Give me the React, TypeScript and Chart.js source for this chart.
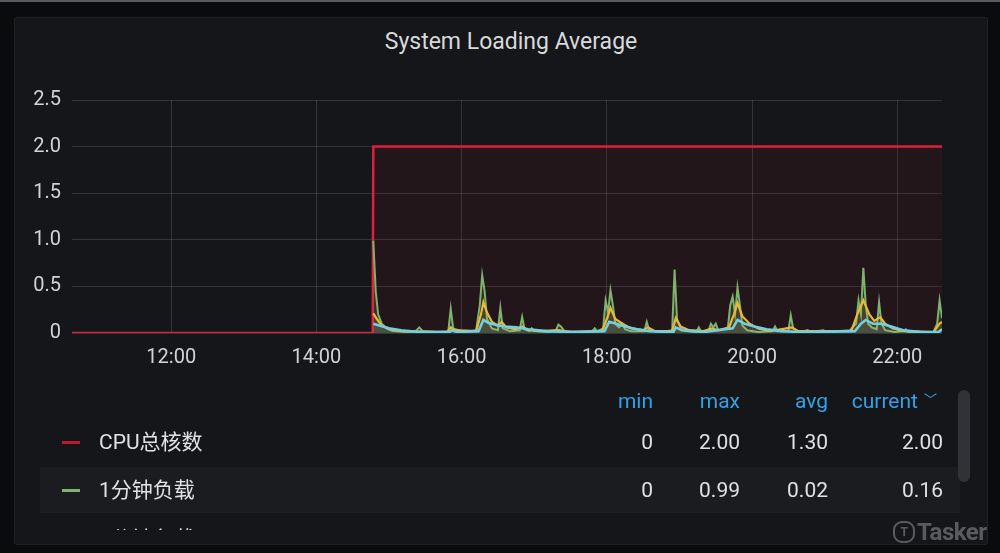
import React, { useEffect, useRef } from "react";
import { Chart, registerables } from "chart.js";

Chart.register(...registerables);

// time in minutes since midnight
const X_MIN = 638;
const X_MAX = 1357;

const xTicks = [720, 840, 960, 1080, 1200, 1320];
const yTicks = [0, 0.5, 1.0, 1.5, 2.0, 2.5];

const seriesNames = ["CPU总核数", "1分钟负载", "5分钟负载", "15分钟负载"];
const seriesColors = ["#e0203a", "#7eb26d", "#eab839", "#6ed0e0"];

const cpuCores: [number, number][] = [
  [638, 0], [886.5, 0], [887, 2], [1357, 2],
];

const load1: [number, number][] = [
  [887, 0.99], [889, 0.45], [891, 0.2], [894, 0.1], [898, 0.05], [903, 0.02], [915, 0.01], [922, 0.02], [925, 0.06], [928, 0.02],
  [940, 0.01], [949, 0.02], [951, 0.26], [953, 0.05], [962, 0.01], [972, 0.03], [975, 0.3], [977, 0.62], [979, 0.45], [981, 0.15],
  [985, 0.05], [990, 0.03], [992, 0.27], [994, 0.05], [1000, 0.02], [1008, 0.03], [1010, 0.17], [1012, 0.04], [1016, 0.02], [1018, 0.05],
  [1020, 0.02], [1032, 0.01], [1038, 0.03], [1040, 0.09], [1042, 0.07], [1045, 0.02], [1060, 0.01], [1068, 0.02], [1070, 0.05], [1072, 0.02],
  [1077, 0.05], [1079, 0.35], [1081, 0.22], [1083, 0.46], [1085, 0.3], [1087, 0.1], [1090, 0.06], [1093, 0.1], [1095, 0.04], [1100, 0.02],
  [1111, 0.02], [1113, 0.12], [1115, 0.03], [1125, 0.01], [1134, 0.03], [1136, 0.68], [1138, 0.15], [1141, 0.05], [1146, 0.02], [1154, 0.01],
  [1156, 0.06], [1158, 0.01], [1164, 0.02], [1166, 0.1], [1168, 0.06], [1170, 0.1], [1172, 0.03], [1180, 0.05], [1182, 0.3], [1184, 0.39],
  [1186, 0.2], [1188, 0.49], [1190, 0.3], [1192, 0.08], [1196, 0.03], [1205, 0.01], [1217, 0.02], [1219, 0.07], [1221, 0.02], [1230, 0.02],
  [1232, 0.19], [1234, 0.05], [1240, 0.01], [1246, 0.03], [1248, 0.01], [1259, 0.03], [1261, 0.01], [1281, 0.03], [1283, 0.06], [1286, 0.1],
  [1288, 0.35], [1290, 0.2], [1292, 0.7], [1294, 0.3], [1296, 0.1], [1299, 0.06], [1303, 0.04], [1305, 0.33], [1307, 0.1], [1310, 0.03],
  [1318, 0.01], [1325, 0.02], [1327, 0.04], [1329, 0.01], [1350, 0.01], [1353, 0.1], [1355, 0.35], [1357, 0.16],
];

const load5: [number, number][] = [
  [887, 0.21], [890, 0.15], [894, 0.08], [900, 0.04], [910, 0.02], [948, 0.01], [951, 0.06], [954, 0.03], [972, 0.02], [976, 0.2],
  [978, 0.33], [981, 0.22], [985, 0.12], [990, 0.08], [993, 0.12], [997, 0.06], [1005, 0.04], [1010, 0.07], [1015, 0.03], [1025, 0.02],
  [1040, 0.03], [1050, 0.01], [1076, 0.02], [1080, 0.15], [1083, 0.27], [1087, 0.15], [1093, 0.1], [1100, 0.05], [1110, 0.03], [1114, 0.06],
  [1120, 0.02], [1134, 0.02], [1137, 0.16], [1141, 0.07], [1148, 0.03], [1160, 0.02], [1167, 0.05], [1172, 0.03], [1181, 0.06], [1185, 0.2],
  [1188, 0.32], [1192, 0.18], [1198, 0.1], [1205, 0.05], [1215, 0.02], [1233, 0.06], [1238, 0.02], [1282, 0.02], [1287, 0.2], [1292, 0.35],
  [1297, 0.2], [1301, 0.13], [1306, 0.17], [1310, 0.1], [1316, 0.05], [1325, 0.02], [1350, 0.01], [1355, 0.1], [1357, 0.12],
];

const load15: [number, number][] = [
  [887, 0.1], [892, 0.08], [900, 0.05], [910, 0.03], [925, 0.01], [950, 0.01], [952, 0.03], [956, 0.01], [974, 0.02], [978, 0.14],
  [982, 0.11], [990, 0.08], [996, 0.07], [1005, 0.06], [1015, 0.04], [1030, 0.02], [1050, 0.01], [1078, 0.02], [1082, 0.12], [1088, 0.1],
  [1095, 0.07], [1105, 0.04], [1115, 0.02], [1135, 0.01], [1137, 0.06], [1142, 0.03], [1160, 0.01], [1184, 0.05], [1188, 0.14], [1194, 0.1],
  [1202, 0.07], [1212, 0.04], [1225, 0.02], [1240, 0.01], [1285, 0.02], [1290, 0.1], [1294, 0.14], [1300, 0.1], [1307, 0.1], [1315, 0.07],
  [1325, 0.03], [1340, 0.01], [1354, 0.01], [1357, 0.04],
];

const legendHeaders = ["min", "max", "avg", "current"];
const legendMin = ["0", "0", "0", "0"];
const legendMax = ["2.00", "0.99", "0.35", "0.14"];
const legendAvg = ["1.30", "0.02", "0.02", "0.02"];
const legendCurrent = ["2.00", "0.16", "0.12", "0.04"];

const fmtTime = (v: number) => {
  const h = Math.floor(v / 60);
  const m = Math.round(v % 60);
  return `${String(h).padStart(2, "0")}:${String(m).padStart(2, "0")}`;
};

const toXY = (arr: [number, number][]) => arr.map(([x, y]) => ({ x, y }));

const FONT = "Roboto, 'Noto Sans CJK SC', 'Noto Sans', sans-serif";

export default function App() {
  const ref = useRef<HTMLCanvasElement | null>(null);

  useEffect(() => {
    if (!ref.current) return;
    const fills = [
      "rgba(224,32,58,0.07)",
      "rgba(126,178,109,0.18)",
      "rgba(234,184,57,0.12)",
      "rgba(110,208,224,0.1)",
    ];
    const widths = [2.5, 2, 2.2, 2.6];
    const data = [cpuCores, load1, load5, load15];
    const orders = [3, 2, 1, 0];
    const chart = new Chart(ref.current, {
      type: "line",
      data: {
        datasets: data.map((d, i) => ({
          label: seriesNames[i],
          data: toXY(d),
          borderColor: seriesColors[i],
          backgroundColor: fills[i],
          borderWidth: widths[i],
          fill: "origin",
          pointRadius: 0,
          tension: 0,
          order: orders[i],
        })),
      },
      options: {
        animation: false,
        responsive: false,
        devicePixelRatio: 1,
        layout: { padding: { left: 14, top: 100, right: 58, bottom: 180 } },
        plugins: { legend: { display: false }, tooltip: { enabled: false }, title: { display: false } },
        scales: {
          x: {
            type: "linear",
            min: X_MIN,
            max: X_MAX,
            afterFit: (s: any) => { s.height = 40; },
            afterBuildTicks: (s: any) => { s.ticks = xTicks.map((v) => ({ value: v })); },
            border: { display: false },
            grid: { color: "rgba(204,204,220,0.17)", drawTicks: false, lineWidth: 1 },
            ticks: {
              padding: 13,
              color: "#d2d3d6",
              font: { family: FONT, size: 20 },
              maxRotation: 0,
              callback: (v: any) => fmtTime(Number(v)),
            },
          },
          y: {
            min: 0,
            max: 2.5,
            afterFit: (s: any) => { s.width = 58; },
            afterBuildTicks: (s: any) => { s.ticks = yTicks.map((v) => ({ value: v })); },
            border: { display: false },
            grid: { color: "rgba(204,204,220,0.17)", drawTicks: false, lineWidth: 1 },
            ticks: {
              padding: 11,
              color: "#d2d3d6",
              font: { family: FONT, size: 20 },
              callback: (v: any) => (Number(v) === 0 ? "0" : Number(v).toFixed(1)),
            },
          },
        },
      },
    });
    return () => chart.destroy();
  }, []);

  const colRight = [653, 740, 828, 943];
  const rowY = [442, 490, 539];

  return (
    <div style={{ position: "fixed", left: 0, top: 0, width: 1000, height: 553, background: "#0a0b0d", overflow: "hidden", fontFamily: FONT }}>
      <div style={{ position: "absolute", left: 0, top: 0, width: 1000, height: 2, background: "#5a5b5e" }} />
      <div style={{ position: "absolute", left: 14, top: 17, width: 972, height: 526, background: "#141619", border: "1px solid #202226", borderRadius: 3 }} />
      <div style={{ position: "absolute", left: 14, top: 27, width: 994, textAlign: "center", color: "#d8d9da", fontSize: 23, lineHeight: "30px" }}>
        System Loading Average
      </div>
      <canvas ref={ref} width={1000} height={553} style={{ position: "absolute", left: 0, top: 0, width: 1000, height: 553 }} />
      <div style={{ position: "absolute", left: 0, top: 380, width: 1000, height: 150, overflow: "hidden" }}>
        {legendHeaders.map((h, i) => (
          <div key={h} style={{ position: "absolute", top: 7, height: 28, lineHeight: "28px", right: 1000 - colRight[i] + (i === 3 ? 6 : 0), color: "#33a2e5", fontSize: 21, textAlign: "right", whiteSpace: "nowrap" }}>
            {h}
            {i === 3 ? <span style={{ fontSize: 13, marginLeft: 6, position: "relative", top: -4 }}>﹀</span> : null}
          </div>
        ))}
        <div style={{ position: "absolute", left: 40, top: 87, width: 920, height: 46, background: "#1a1c20" }} />
        {seriesNames.slice(0, 3).map((n, r) => (
          <React.Fragment key={n}>
            <div style={{ position: "absolute", left: 62, top: rowY[r] - 380 - 1.5, width: 18, height: 3, background: r === 0 ? "#c4162a" : seriesColors[r] }} />
            <div style={{ position: "absolute", left: 99, top: rowY[r] - 380 - 15, height: 30, lineHeight: "30px", color: "#e0e1e3", fontSize: 21, whiteSpace: "nowrap" }}>{n}</div>
            {[legendMin, legendMax, legendAvg, legendCurrent].map((col, c) => (
              <div key={c} style={{ position: "absolute", right: 1000 - colRight[c], top: rowY[r] - 380 - 15, height: 30, lineHeight: "30px", color: "#e0e1e3", fontSize: 21, textAlign: "right" }}>
                {col[r]}
              </div>
            ))}
          </React.Fragment>
        ))}
      </div>
      <div style={{ position: "absolute", left: 958, top: 390, width: 12, height: 92, borderRadius: 6, background: "#303238" }} />
      <div style={{ position: "absolute", left: 893, top: 518, display: "flex", alignItems: "center", color: "rgba(150,150,150,0.55)", fontSize: 24, fontWeight: 700, letterSpacing: -0.5 }}>
        <div style={{ width: 18, height: 18, borderRadius: 9, border: "2px solid rgba(150,150,150,0.55)", marginRight: 2, fontSize: 12, lineHeight: "18px", textAlign: "center" }}>T</div>
        Tasker
      </div>
    </div>
  );
}
